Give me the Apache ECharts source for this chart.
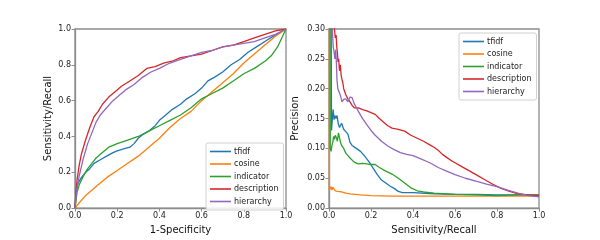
<!DOCTYPE html>
<html>
<head>
<meta charset="utf-8">
<script src="https://cdn.jsdelivr.net/npm/echarts@6/dist/echarts.min.js"></script>
<style>html,body{margin:0;padding:0;background:#fff}#c{width:600px;height:240px}</style>
</head>
<body>
<div id="c"></div>
<script>
const seriesNames = ['tfidf', 'cosine', 'indicator', 'description', 'hierarchy'];
const seriesColors = ['#1f77b4', '#ff7f0e', '#2ca02c', '#d62728', '#9467bd'];

const leftXName = '1-Specificity';
const leftYName = 'Sensitivity/Recall';
const rightXName = 'Sensitivity/Recall';
const rightYName = 'Precision';

// ROC curves [1-specificity, sensitivity]
const rocTfidf = [[0,0],[0.005,0.09],[0.015,0.14],[0.03,0.17],[0.05,0.2],[0.07,0.22],[0.09,0.25],[0.12,0.27],[0.15,0.29],[0.18,0.31],[0.2,0.32],[0.23,0.33],[0.26,0.34],[0.28,0.36],[0.3,0.39],[0.32,0.41],[0.35,0.43],[0.38,0.46],[0.4,0.49],[0.43,0.52],[0.46,0.55],[0.5,0.58],[0.53,0.61],[0.57,0.64],[0.6,0.67],[0.63,0.71],[0.66,0.73],[0.7,0.76],[0.74,0.8],[0.78,0.83],[0.82,0.87],[0.86,0.9],[0.9,0.93],[0.94,0.96],[0.97,0.98],[1,1]];
const rocCosine = [[0,0],[0.02,0.03],[0.05,0.07],[0.08,0.1],[0.1,0.12],[0.15,0.17],[0.2,0.21],[0.25,0.25],[0.3,0.29],[0.35,0.34],[0.4,0.39],[0.45,0.45],[0.5,0.5],[0.55,0.54],[0.6,0.6],[0.65,0.65],[0.7,0.7],[0.75,0.75],[0.8,0.81],[0.85,0.86],[0.9,0.91],[0.95,0.96],[1,1]];
const rocIndicator = [[0,0],[0.01,0.09],[0.02,0.13],[0.04,0.18],[0.06,0.22],[0.08,0.25],[0.1,0.28],[0.13,0.31],[0.16,0.34],[0.2,0.36],[0.25,0.38],[0.3,0.4],[0.35,0.43],[0.4,0.46],[0.45,0.49],[0.5,0.52],[0.55,0.56],[0.6,0.61],[0.65,0.64],[0.7,0.67],[0.75,0.71],[0.8,0.75],[0.85,0.78],[0.9,0.82],[0.93,0.85],[0.96,0.9],[0.98,0.95],[1,1]];
const rocDescription = [[0,0],[0.005,0.1],[0.01,0.16],[0.02,0.24],[0.03,0.3],[0.05,0.38],[0.07,0.45],[0.09,0.51],[0.11,0.54],[0.13,0.58],[0.16,0.62],[0.19,0.65],[0.22,0.68],[0.26,0.71],[0.3,0.74],[0.34,0.78],[0.38,0.79],[0.42,0.81],[0.46,0.82],[0.5,0.84],[0.55,0.85],[0.6,0.86],[0.65,0.88],[0.7,0.9],[0.75,0.91],[0.8,0.93],[0.85,0.95],[0.9,0.97],[0.95,0.99],[1,1]];
const rocHierarchy = [[0,0],[0.005,0.07],[0.01,0.12],[0.02,0.18],[0.04,0.28],[0.06,0.36],[0.08,0.42],[0.1,0.48],[0.12,0.52],[0.15,0.56],[0.18,0.6],[0.21,0.63],[0.24,0.66],[0.28,0.69],[0.32,0.73],[0.36,0.76],[0.4,0.78],[0.45,0.81],[0.5,0.83],[0.55,0.85],[0.6,0.87],[0.65,0.88],[0.7,0.9],[0.75,0.91],[0.8,0.92],[0.85,0.93],[0.9,0.95],[0.95,0.97],[1,1]];

// Precision-recall curves [recall, precision]
const prTfidf = [[0.008,1.0],[0.01,0.35],[0.012,0.13],[0.016,0.15],[0.02,0.165],[0.024,0.148],[0.028,0.155],[0.033,0.15],[0.038,0.155],[0.045,0.14],[0.05,0.135],[0.06,0.142],[0.07,0.132],[0.08,0.128],[0.09,0.124],[0.1,0.11],[0.11,0.105],[0.13,0.1],[0.15,0.095],[0.17,0.087],[0.19,0.078],[0.21,0.067],[0.23,0.056],[0.25,0.047],[0.27,0.042],[0.29,0.037],[0.31,0.033],[0.33,0.028],[0.35,0.026],[0.4,0.026],[0.5,0.024],[0.6,0.023],[0.7,0.023],[0.8,0.022],[0.9,0.022],[1,0.022]];
const prCosine = [[0.0005,1.0],[0.002,0.03],[0.006,0.033],[0.01,0.036],[0.014,0.03],[0.018,0.035],[0.022,0.038],[0.026,0.033],[0.03,0.029],[0.04,0.028],[0.06,0.027],[0.08,0.025],[0.1,0.024],[0.15,0.022],[0.2,0.021],[0.3,0.02],[0.4,0.02],[0.5,0.02],[0.6,0.02],[0.7,0.02],[0.8,0.02],[0.9,0.02],[1,0.02]];
const prIndicator = [[0.003,1.0],[0.006,0.1],[0.01,0.095],[0.014,0.105],[0.018,0.11],[0.022,0.12],[0.026,0.115],[0.03,0.122],[0.035,0.118],[0.04,0.112],[0.045,0.126],[0.05,0.118],[0.055,0.11],[0.06,0.105],[0.07,0.1],[0.08,0.092],[0.09,0.088],[0.1,0.084],[0.12,0.077],[0.14,0.074],[0.16,0.075],[0.18,0.074],[0.2,0.073],[0.22,0.073],[0.24,0.068],[0.27,0.062],[0.3,0.057],[0.33,0.05],[0.36,0.042],[0.39,0.034],[0.42,0.029],[0.45,0.027],[0.5,0.025],[0.6,0.023],[0.7,0.022],[0.8,0.021],[0.9,0.022],[1,0.022]];
const prDescription = [[0.015,1.0],[0.022,0.33],[0.026,0.3],[0.03,0.285],[0.034,0.29],[0.037,0.27],[0.04,0.26],[0.043,0.245],[0.046,0.25],[0.05,0.23],[0.054,0.24],[0.058,0.222],[0.062,0.215],[0.066,0.21],[0.07,0.2],[0.075,0.195],[0.08,0.19],[0.09,0.183],[0.1,0.178],[0.11,0.172],[0.12,0.168],[0.14,0.168],[0.16,0.165],[0.18,0.163],[0.2,0.16],[0.22,0.157],[0.24,0.15],[0.26,0.144],[0.28,0.138],[0.3,0.134],[0.33,0.132],[0.36,0.129],[0.39,0.122],[0.42,0.117],[0.45,0.112],[0.48,0.106],[0.5,0.102],[0.52,0.097],[0.54,0.09],[0.56,0.085],[0.58,0.08],[0.6,0.076],[0.63,0.07],[0.66,0.064],[0.7,0.056],[0.74,0.048],[0.78,0.04],[0.82,0.033],[0.86,0.028],[0.9,0.024],[0.95,0.022],[1,0.021]];
const prHierarchy = [[0.012,1.0],[0.016,0.3],[0.02,0.27],[0.024,0.262],[0.028,0.25],[0.032,0.265],[0.035,0.245],[0.038,0.215],[0.042,0.2],[0.048,0.195],[0.055,0.188],[0.062,0.178],[0.07,0.182],[0.08,0.183],[0.09,0.178],[0.1,0.186],[0.11,0.185],[0.12,0.175],[0.14,0.162],[0.16,0.15],[0.18,0.14],[0.2,0.13],[0.22,0.122],[0.25,0.112],[0.28,0.104],[0.31,0.098],[0.34,0.093],[0.37,0.09],[0.4,0.088],[0.44,0.082],[0.48,0.076],[0.52,0.068],[0.56,0.062],[0.6,0.056],[0.65,0.05],[0.7,0.045],[0.75,0.04],[0.8,0.036],[0.85,0.03],[0.9,0.025],[0.95,0.021],[1,0.019]];

const rocData = [rocTfidf, rocCosine, rocIndicator, rocDescription, rocHierarchy];
const prData = [prTfidf, prCosine, prIndicator, prDescription, prHierarchy];

const FONT = 'DejaVu Sans';
const spine = '#8c8c8c';

function axisCommon(extra) {
  return Object.assign({
    type: 'value',
    splitLine: { show: false },
    axisLine: { show: true, onZero: false, lineStyle: { color: spine, width: 1.3 } },
    axisTick: { show: true, inside: false, length: 3.5, lineStyle: { color: spine, width: 1 } },
    axisLabel: { color: '#222', fontFamily: FONT, fontSize: 8, margin: 4 },
    nameLocation: 'middle',
    nameTextStyle: { color: '#111', fontFamily: FONT, fontSize: 10 }
  }, extra);
}

function legendAt(left, top) {
  return {
    data: seriesNames,
    orient: 'vertical',
    left: left, top: top,
    icon: 'rect',
    itemWidth: 21, itemHeight: 1.6,
    itemGap: 3.5,
    padding: [4, 5, 4, 4],
    borderColor: '#d0d0d0', borderWidth: 1, borderRadius: 2,
    backgroundColor: 'rgba(255,255,255,0.85)',
    textStyle: { fontFamily: FONT, fontSize: 8, color: '#222', lineHeight: 9, padding: [0, 0, 0, -2] },
    selectedMode: false
  };
}

const series = [];
seriesNames.forEach((n, i) => {
  series.push({ name: n, type: 'line', xAxisIndex: 0, yAxisIndex: 0, data: rocData[i], showSymbol: false, symbol: 'none',
    color: seriesColors[i], lineStyle: { width: 1.3, color: seriesColors[i] }, clip: true, animation: false });
});
seriesNames.forEach((n, i) => {
  series.push({ name: n, type: 'line', xAxisIndex: 1, yAxisIndex: 1, data: prData[i], showSymbol: false, symbol: 'none',
    color: seriesColors[i], lineStyle: { width: 1.3, color: seriesColors[i] }, clip: true, animation: false });
});

const chart = echarts.init(document.getElementById('c'), null, { renderer: 'canvas' });
chart.setOption({
  animation: false,
  backgroundColor: '#fff',
  grid: [
    { left: 75, top: 29, width: 211, height: 181, show: true, borderColor: spine, borderWidth: 1.3, backgroundColor: 'transparent' },
    { left: 329, top: 29, width: 210, height: 181, show: true, borderColor: spine, borderWidth: 1.3, backgroundColor: 'transparent' }
  ],
  xAxis: [
    axisCommon({ gridIndex: 0, min: 0, max: 1, interval: 0.2, name: leftXName, nameGap: 15,
      axisLabel: { color: '#222', fontFamily: FONT, fontSize: 8, margin: 4, formatter: v => v.toFixed(1) } }),
    axisCommon({ gridIndex: 1, min: 0, max: 1, interval: 0.2, name: rightXName, nameGap: 15,
      axisLabel: { color: '#222', fontFamily: FONT, fontSize: 8, margin: 4, formatter: v => v.toFixed(1) } })
  ],
  yAxis: [
    axisCommon({ gridIndex: 0, min: 0, max: 1, interval: 0.2, name: leftYName, nameGap: 22,
      axisLabel: { color: '#222', fontFamily: FONT, fontSize: 8, margin: 4, formatter: v => v.toFixed(1) } }),
    axisCommon({ gridIndex: 1, min: 0, max: 0.3, interval: 0.05, name: rightYName, nameGap: 29,
      axisLabel: { color: '#222', fontFamily: FONT, fontSize: 8, margin: 4, formatter: v => v.toFixed(2) } })
  ],
  legend: [legendAt(206, 143), legendAt(459, 33)],
  series: series
});
</script>
</body>
</html>
